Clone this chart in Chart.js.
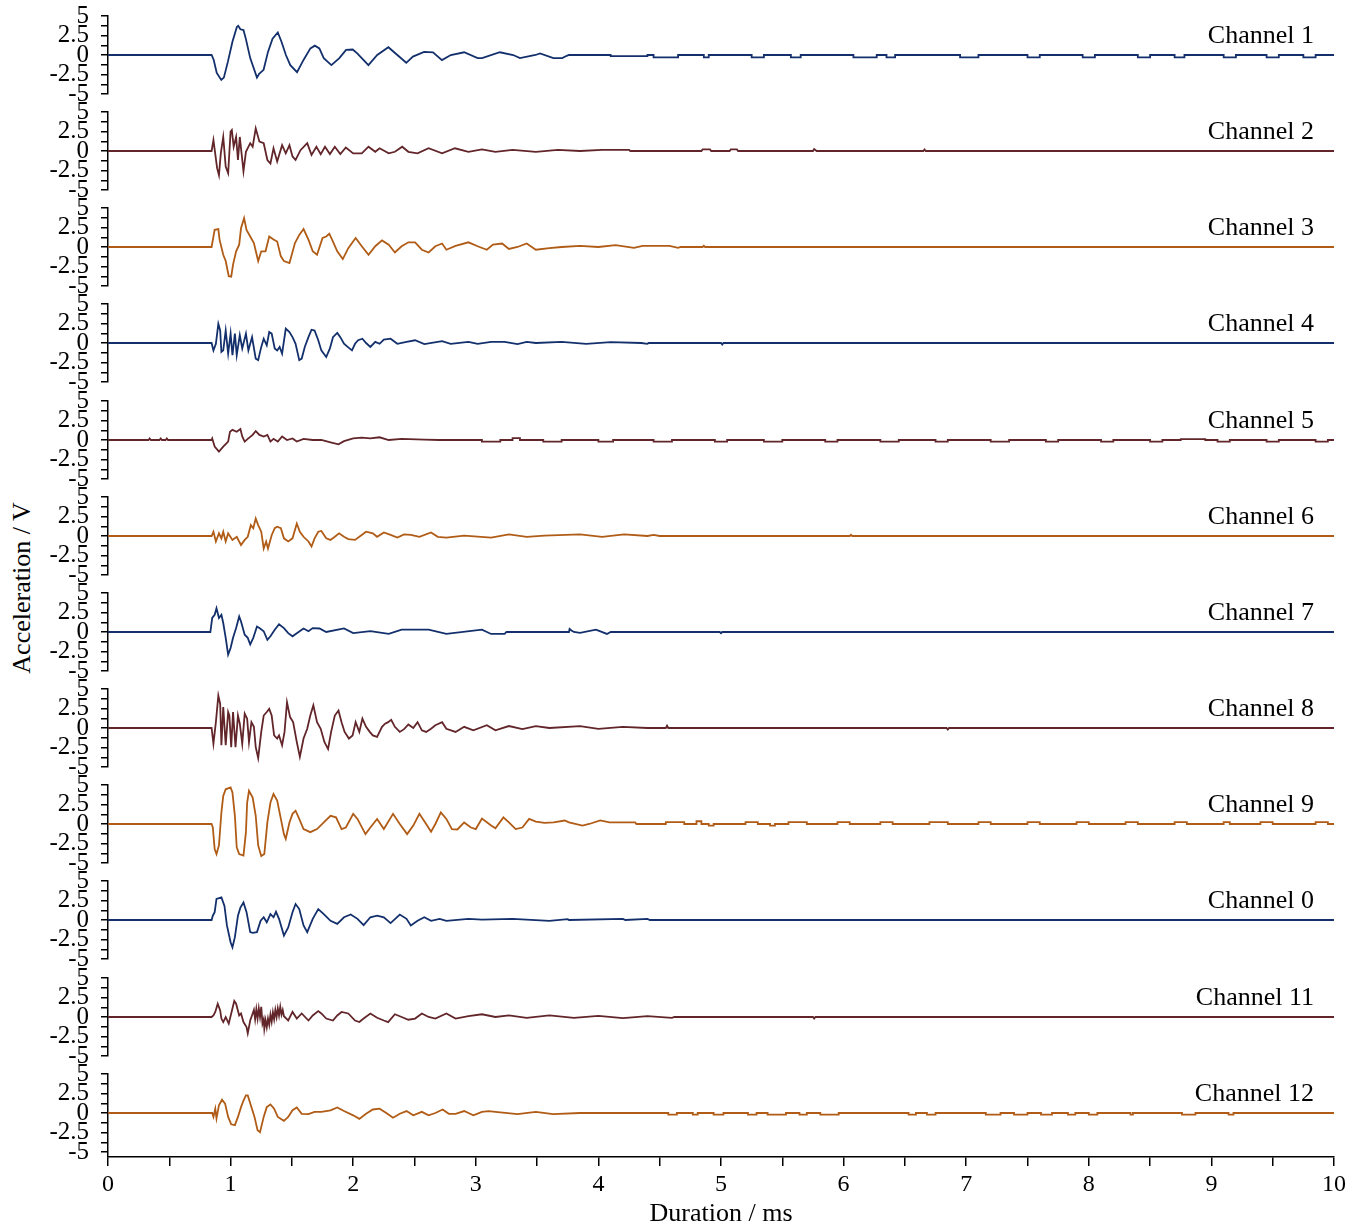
<!DOCTYPE html>
<html>
<head>
<meta charset="utf-8">
<script src="https://cdn.jsdelivr.net/npm/chart.js@4.4.1/dist/chart.umd.min.js"></script>
<style>
  body { margin: 0; background: #fff; width: 1363px; height: 1225px; position: relative; overflow: hidden; }
  canvas.panel { position: absolute; left: 0; }
  #ylab {
    position: absolute; left: 22px; top: 588px;
    transform: translate(-50%, -50%) rotate(-90deg);
    font: 26px "Liberation Serif", serif; white-space: nowrap; color: #000;
  }
</style>
</head>
<body>
<div id="ylab">Acceleration / V</div>
<script>
// ===========================
// DATA  (time in ms, acceleration in V)
// ===========================
const xTicks = [0, 1, 2, 3, 4, 5, 6, 7, 8, 9, 10];
const yTicks = [-5, -3.75, -2.5, -1.25, 0, 1.25, 2.5, 3.75, 5];

const ch1 = [[0,0],[0.845,0],[0.862,-0.6],[0.887,-2.3],[0.924,-3.2],[0.945,-2.9],[0.978,-0.85],[1.015,1.7],[1.051,3.6],[1.062,3.75],[1.08,3.3],[1.105,3.2],[1.124,2.1],[1.16,-0.4],[1.215,-2.9],[1.233,-2.4],[1.269,-1.9],[1.305,0.4],[1.342,2.1],[1.385,2.9],[1.415,1.7],[1.451,0],[1.487,-1.3],[1.542,-2.2],[1.596,-0.6],[1.651,0.85],[1.687,1.2],[1.724,0.85],[1.76,-0.4],[1.822,-1.3],[1.887,-0.4],[1.942,0.65],[1.996,0.7],[2.033,0.2],[2.124,-1.3],[2.196,0],[2.287,1.0],[2.36,0],[2.433,-1.0],[2.487,-0.2],[2.578,0.4],[2.651,0.35],[2.724,-0.65],[2.796,0],[2.905,0.35],[3.015,-0.4],[3.051,-0.4],[3.196,0.35],[3.305,0],[3.36,-0.4],[3.487,0],[3.524,0.2],[3.633,-0.4],[3.705,-0.4],[3.742,-0.1],[3.76,0]];
const ch1Steps = [[4.1,4.4,-0.15],[4.45,4.65,-0.3],[4.86,4.9,-0.3],[5.25,5.35,-0.3],[5.57,5.65,-0.3],[6.08,6.27,-0.3],[6.35,6.42,-0.3],[6.95,7.1,-0.3],[7.5,7.6,-0.3],[7.95,8.05,-0.3],[8.4,8.5,-0.3],[8.7,8.78,-0.3],[9.1,9.2,-0.3],[9.45,9.55,-0.3],[9.75,9.85,-0.3]];

const ch2 = [[0,0],[0.845,0],[0.86,1.4],[0.89,-2.2],[0.905,-3.1],[0.92,-0.3],[0.94,1.8],[0.96,-2.0],[0.98,-2.85],[1.0,2.5],[1.01,2.7],[1.025,0.55],[1.045,1.8],[1.06,-1.15],[1.075,1.8],[1.105,-2.6],[1.125,-0.1],[1.16,1.0],[1.18,0.55],[1.205,2.9],[1.235,1.2],[1.27,1.0],[1.3,-1.15],[1.325,-1.6],[1.35,0.35],[1.38,-1.35],[1.42,0.75],[1.45,-0.3],[1.48,0.75],[1.505,-0.7],[1.53,-1.15],[1.57,0.1],[1.625,1.0],[1.66,-0.5],[1.7,0.55],[1.735,-0.4],[1.77,0.55],[1.81,-0.4],[1.85,0.55],[1.895,-0.4],[1.94,0.45],[2.0,-0.3],[2.07,-0.3],[2.125,0.55],[2.18,-0.1],[2.215,0.35],[2.29,-0.3],[2.34,-0.1],[2.4,0.55],[2.45,-0.1],[2.525,-0.3],[2.615,0.35],[2.725,-0.3],[2.83,0.35],[2.94,-0.1],[3.05,0.2],[3.16,-0.1],[3.3,0.15],[3.49,-0.1],[3.67,0.15],[3.85,0],[4.03,0.15],[4.25,0.15],[4.26,0],[4.84,0],[4.85,0.2],[4.91,0.2],[4.92,0],[5.07,0],[5.08,0.2],[5.13,0.2],[5.14,0],[5.75,0],[5.76,0.25],[5.78,0],[6.65,0],[6.66,0.2],[6.67,0]];

const ch3 = [[0,0],[0.845,0],[0.87,2.2],[0.9,2.3],[0.91,0.95],[0.94,-1.0],[0.96,-1.8],[0.985,-3.75],[1.005,-3.8],[1.02,-2.25],[1.045,-0.55],[1.07,0.3],[1.085,2.4],[1.11,3.7],[1.13,2.2],[1.16,1.35],[1.19,0.5],[1.225,-1.8],[1.25,-0.55],[1.285,-0.55],[1.315,1.35],[1.35,0.95],[1.38,0.7],[1.41,-1.2],[1.435,-1.8],[1.48,-2.05],[1.525,0.5],[1.56,1.55],[1.595,2.3],[1.635,0.95],[1.67,-0.55],[1.705,-1.0],[1.75,1.15],[1.78,1.35],[1.805,1.7],[1.835,0.7],[1.87,-0.55],[1.915,-1.55],[1.96,-0.15],[2.02,1.15],[2.07,0.1],[2.125,-1.0],[2.18,0.1],[2.235,0.85],[2.29,0.3],[2.34,-0.7],[2.395,0.1],[2.45,0.6],[2.505,0.6],[2.56,-0.35],[2.615,-0.7],[2.67,0.1],[2.725,0.45],[2.76,-0.35],[2.835,0.15],[2.94,0.6],[3.015,0.1],[3.09,-0.35],[3.14,0.3],[3.215,0.45],[3.27,-0.25],[3.34,0],[3.415,0.45],[3.49,-0.35],[3.6,-0.15],[3.7,0],[3.85,0.15],[4.0,0],[4.14,0.25],[4.29,-0.1],[4.36,0.15],[4.58,0.15],[4.65,-0.1],[4.67,0],[4.85,0],[4.86,0.15],[4.87,0]];

const ch4 = [[0,0],[0.845,0],[0.86,-0.95],[0.88,-0.1],[0.9,2.45],[0.915,1.6],[0.925,-1.15],[0.94,-0.95],[0.96,1.6],[0.98,-1.35],[1.0,1.2],[1.015,-1.55],[1.035,1.2],[1.05,-1.55],[1.075,1.0],[1.095,-0.7],[1.125,1.2],[1.145,-0.95],[1.175,0.75],[1.205,-2.0],[1.225,-2.2],[1.25,-0.5],[1.27,0.55],[1.295,-0.3],[1.315,1.4],[1.335,1.2],[1.36,-0.7],[1.38,-0.95],[1.4,-0.5],[1.42,-1.35],[1.45,1.85],[1.48,1.4],[1.505,0.75],[1.53,-0.1],[1.56,-2.2],[1.58,-2.0],[1.605,-0.5],[1.635,0.75],[1.66,1.7],[1.685,1.6],[1.715,0.35],[1.74,-0.95],[1.78,-1.8],[1.81,-0.7],[1.835,0.75],[1.87,1.3],[1.895,0.75],[1.925,-0.1],[1.955,-0.5],[1.99,-0.95],[2.015,-0.1],[2.04,0.35],[2.075,0.55],[2.105,0],[2.14,-0.5],[2.18,0.15],[2.215,-0.1],[2.25,0.45],[2.305,0.55],[2.36,-0.1],[2.435,0.15],[2.505,0.35],[2.58,-0.15],[2.725,0.25],[2.795,-0.1],[2.94,0.15],[3.015,-0.1],[3.125,0.15],[3.235,0.15],[3.34,-0.15],[3.415,0.15],[3.49,0],[3.7,0.15],[3.9,-0.1],[4.1,0.1],[4.35,0],[4.4,-0.1],[4.41,0],[5.0,0],[5.01,-0.2],[5.02,0]];

const ch5 = [[0,0],[0.33,0],[0.34,0.2],[0.35,0],[0.42,0],[0.43,0.2],[0.44,0],[0.47,0],[0.48,0.2],[0.49,0],[0.845,0],[0.85,0.2],[0.87,-0.85],[0.905,-1.5],[0.94,-0.85],[0.98,-0.2],[0.995,1.05],[1.015,1.3],[1.05,1.05],[1.08,1.4],[1.095,0.45],[1.115,-0.2],[1.14,0.15],[1.18,0.65],[1.205,1.15],[1.235,0.65],[1.27,0.45],[1.3,0.65],[1.325,-0.2],[1.35,0.15],[1.385,-0.2],[1.42,0.45],[1.46,0],[1.505,0.2],[1.54,-0.2],[1.595,0.15],[1.67,0],[1.74,0],[1.815,-0.3],[1.88,-0.55],[1.925,-0.15],[2.0,0.2],[2.07,0.3],[2.14,0.2],[2.215,0.35],[2.29,0],[2.395,0.15],[2.58,0.05],[2.7,0]];
const ch5Steps = [[3.05,3.2,-0.2],[3.3,3.36,0.25],[3.55,3.7,-0.2],[4.0,4.12,-0.2],[4.45,4.6,-0.2],[4.95,5.05,-0.2],[5.35,5.5,-0.2],[5.85,5.95,-0.2],[6.3,6.45,-0.2],[6.75,6.85,-0.2],[7.2,7.35,-0.2],[7.65,7.75,-0.2],[8.1,8.2,-0.2],[8.5,8.6,-0.2],[8.75,8.95,0.1],[9.05,9.15,-0.2],[9.45,9.55,-0.2],[9.85,9.95,-0.2]];

const ch6 = [[0,0],[0.845,0],[0.86,0.55],[0.88,-0.7],[0.905,0.35],[0.925,-0.3],[0.94,0.55],[0.96,-0.7],[0.98,0.35],[1.015,-0.5],[1.05,-0.1],[1.085,-1.15],[1.115,-0.5],[1.14,-0.1],[1.165,1.4],[1.185,1.0],[1.205,2.25],[1.225,1.4],[1.25,0.55],[1.27,-1.6],[1.29,-0.7],[1.305,-1.6],[1.335,0.1],[1.36,1.0],[1.38,1.2],[1.41,1.0],[1.435,-0.3],[1.47,-0.7],[1.505,-0.3],[1.54,1.6],[1.565,0.55],[1.595,-0.1],[1.635,-0.7],[1.66,-1.35],[1.685,-0.3],[1.715,0.55],[1.74,0.65],[1.78,-0.3],[1.815,-0.5],[1.85,-0.1],[1.885,0.35],[1.925,-0.1],[1.96,-0.4],[2.015,-0.5],[2.05,-0.1],[2.105,0.55],[2.16,0.35],[2.195,-0.1],[2.25,0.45],[2.305,0.15],[2.36,-0.2],[2.415,0.2],[2.47,0.15],[2.54,-0.1],[2.635,0.45],[2.69,-0.1],[2.76,-0.2],[2.905,0.05],[3.125,-0.2],[3.27,0.2],[3.415,-0.1],[3.56,0.05],[3.85,0.2],[4.03,-0.1],[4.21,0.2],[4.4,0],[4.45,0.15],[4.5,0],[6.05,0],[6.06,0.15],[6.07,0]];

const ch7 = [[0,0],[0.835,0],[0.85,1.8],[0.87,2.2],[0.885,3.05],[0.905,1.8],[0.925,2.2],[0.94,1.15],[0.96,-0.75],[0.98,-2.9],[1.0,-2.05],[1.02,-0.75],[1.045,0.5],[1.07,2.0],[1.085,1.35],[1.115,-0.35],[1.14,-0.75],[1.16,-1.6],[1.185,-0.75],[1.215,0.7],[1.235,0.5],[1.27,0.1],[1.3,-1.0],[1.325,-0.55],[1.36,0.3],[1.395,1.0],[1.435,0.5],[1.47,-0.15],[1.505,-0.55],[1.54,-0.15],[1.595,0.45],[1.635,0.1],[1.67,0.5],[1.725,0.45],[1.78,0],[1.925,0.45],[2.0,-0.15],[2.14,0.1],[2.29,-0.25],[2.395,0.3],[2.615,0.3],[2.76,-0.25],[3.05,0.3],[3.125,-0.25],[3.235,-0.25],[3.25,0],[3.76,0],[3.765,0.4],[3.78,0.2],[3.8,0],[3.85,-0.1],[3.98,0.3],[4.07,-0.25],[4.1,0],[4.99,0],[5.0,-0.15],[5.01,0]];

const ch8 = [[0,0],[0.845,0],[0.86,-2.0],[0.88,0.75],[0.9,4.15],[0.915,3.1],[0.925,-2.2],[0.94,2.7],[0.96,-2.2],[0.98,2.05],[0.99,1.6],[1.005,-2.45],[1.02,2.05],[1.04,-2.45],[1.06,1.6],[1.075,0.55],[1.095,-2.0],[1.115,1.85],[1.135,1.2],[1.15,-1.8],[1.17,0.75],[1.19,0.15],[1.205,-2.45],[1.225,-3.85],[1.25,-0.5],[1.27,1.6],[1.295,2.05],[1.315,2.45],[1.335,1.6],[1.355,-0.95],[1.38,-1.35],[1.395,-0.95],[1.42,-2.2],[1.44,-0.5],[1.46,3.3],[1.485,1.4],[1.51,0.75],[1.54,-1.8],[1.565,-3.7],[1.595,-1.35],[1.625,-0.1],[1.65,1.6],[1.675,2.9],[1.705,0.75],[1.735,-0.1],[1.765,-1.8],[1.795,-2.7],[1.82,-0.5],[1.85,1.6],[1.88,2.25],[1.905,0.75],[1.93,-0.5],[1.965,-1.35],[1.995,-0.95],[2.02,0.75],[2.05,-0.5],[2.075,1.2],[2.105,0.15],[2.135,-0.5],[2.16,-0.95],[2.195,-1.15],[2.235,0.15],[2.26,0.55],[2.285,0.75],[2.31,1.05],[2.34,0.15],[2.38,-0.5],[2.415,-0.15],[2.45,0.45],[2.49,0],[2.525,0.75],[2.56,-0.3],[2.595,-0.5],[2.635,-0.1],[2.67,0.35],[2.725,0.75],[2.76,-0.1],[2.835,-0.5],[2.905,0.15],[2.98,-0.3],[3.09,0.35],[3.16,-0.3],[3.27,0.25],[3.38,-0.15],[3.49,0.25],[3.6,0],[3.85,0.25],[4.0,-0.1],[4.2,0.15],[4.4,0],[4.55,0],[4.56,0.3],[4.57,0],[6.84,0],[6.85,-0.2],[6.86,0]];

const ch9 = [[0,0],[0.845,0],[0.855,-0.45],[0.87,-3.2],[0.885,-3.85],[0.905,-2.75],[0.925,1.5],[0.94,3.6],[0.96,4.45],[1.0,4.7],[1.015,4.05],[1.035,1.05],[1.05,-3.0],[1.07,-3.85],[1.105,-4.05],[1.125,-1.05],[1.135,2.75],[1.15,4.25],[1.18,3.4],[1.205,1.05],[1.225,-2.75],[1.25,-4.1],[1.275,-3.85],[1.3,0.2],[1.325,2.75],[1.35,3.85],[1.38,3.0],[1.41,0.65],[1.435,-1.3],[1.45,-1.9],[1.48,0.2],[1.505,1.3],[1.53,1.7],[1.56,0.65],[1.595,-0.65],[1.65,-1.05],[1.705,-0.65],[1.76,0.2],[1.815,1.05],[1.86,0.85],[1.905,-0.65],[1.94,-0.45],[2.0,1.3],[2.035,0.65],[2.1,-1.3],[2.14,-0.45],[2.195,0.65],[2.25,-0.65],[2.325,1.3],[2.38,0],[2.44,-1.3],[2.49,-0.2],[2.54,1.3],[2.595,0],[2.635,-1.0],[2.67,0],[2.715,1.5],[2.76,0.65],[2.805,-0.65],[2.85,-0.7],[2.905,0.2],[2.96,-0.45],[3.0,-0.65],[3.05,0.7],[3.125,-0.2],[3.16,-0.55],[3.225,0.85],[3.27,0.2],[3.325,-0.65],[3.38,-0.45],[3.435,0.65],[3.49,0.3],[3.56,0.15],[3.635,0.2],[3.725,0.45],[3.76,0.2],[3.87,-0.2],[3.925,0],[4.015,0.45],[4.09,0.2],[4.3,0.2],[4.31,0]];
const ch9Steps = [[4.55,4.7,0.25],[4.8,4.84,0.35],[4.9,4.94,-0.2],[5.2,5.3,0.25],[5.4,5.44,-0.2],[5.55,5.7,0.25],[5.95,6.05,0.25],[6.3,6.4,0.25],[6.7,6.85,0.25],[7.1,7.2,0.25],[7.5,7.6,0.25],[7.9,8.0,0.25],[8.3,8.4,0.25],[8.7,8.8,0.25],[9.1,9.15,0.25],[9.4,9.5,0.25],[9.85,9.95,0.25]];

const ch0 = [[0,0],[0.845,0],[0.855,0.55],[0.87,1.0],[0.885,2.7],[0.925,2.9],[0.95,1.8],[0.97,-0.7],[1.0,-2.85],[1.015,-3.5],[1.035,-2.2],[1.06,0.55],[1.08,1.6],[1.105,2.25],[1.13,1.0],[1.16,-1.55],[1.18,-1.65],[1.215,-1.55],[1.245,-0.1],[1.27,0.35],[1.295,-0.3],[1.325,0.75],[1.35,0.35],[1.37,1.05],[1.395,0.15],[1.435,-2.0],[1.47,-0.95],[1.505,1.0],[1.53,2.05],[1.56,1.4],[1.595,-0.7],[1.625,-1.55],[1.67,0.15],[1.715,1.4],[1.76,0.75],[1.815,-0.1],[1.87,-0.5],[1.925,0.35],[1.98,0.7],[2.035,0.15],[2.085,-0.65],[2.14,0.35],[2.195,0.55],[2.25,0.35],[2.305,-0.4],[2.38,0.7],[2.435,0.15],[2.47,-0.7],[2.525,-0.1],[2.58,0.35],[2.635,-0.1],[2.705,0.15],[2.76,-0.1],[2.94,0.15],[3.05,0.05],[3.3,0.15],[3.6,-0.1],[3.75,0.1],[3.76,0],[4.2,0.15],[4.22,0],[4.4,0.15],[4.42,0]];

const ch11 = [[0,0],[0.845,0],[0.86,0.2],[0.875,0.65],[0.895,1.7],[0.915,0.85],[0.925,-0.2],[0.94,-0.65],[0.96,0],[0.985,-0.85],[1.005,0.45],[1.03,2.05],[1.045,1.7],[1.07,0.2],[1.085,0.45],[1.105,-0.65],[1.13,-1.3],[1.14,-2.1],[1.16,-0.45],[1.18,0.45],[1.19,0.9],[1.2,-0.3],[1.21,1.0],[1.22,-0.2],[1.23,1.1],[1.24,0.0],[1.25,1.3],[1.26,-0.85],[1.27,-0.3],[1.275,-1.5],[1.285,-0.4],[1.295,-1.3],[1.305,-0.2],[1.315,-1.0],[1.325,0.3],[1.335,-0.6],[1.345,0.6],[1.355,-0.3],[1.365,0.9],[1.375,0.0],[1.385,1.1],[1.395,0.2],[1.405,1.3],[1.415,0.3],[1.425,0.9],[1.435,0.1],[1.47,-0.45],[1.505,0.65],[1.54,-0.2],[1.58,0.45],[1.635,-0.45],[1.67,0.2],[1.715,0.75],[1.74,0.45],[1.78,-0.2],[1.835,-0.45],[1.87,0.2],[1.905,0.65],[1.96,0.45],[2.015,-0.45],[2.05,-0.65],[2.085,-0.2],[2.14,0.45],[2.195,-0.1],[2.25,-0.45],[2.285,-0.65],[2.34,0.35],[2.395,0],[2.45,-0.35],[2.505,-0.2],[2.56,0.45],[2.615,0],[2.67,-0.2],[2.76,0.45],[2.835,-0.2],[2.94,0.1],[3.05,0.35],[3.16,0],[3.27,0.2],[3.415,-0.1],[3.6,0.2],[3.8,-0.1],[4.0,0.15],[4.2,-0.15],[4.4,0.1],[4.6,-0.1],[4.62,0],[5.75,0],[5.76,-0.2],[5.77,0]];

const ch12 = [[0,0],[0.85,0],[0.86,-0.5],[0.875,0.55],[0.885,-0.7],[0.905,1.0],[0.93,1.7],[0.955,1.2],[0.98,-0.5],[1.005,-1.45],[1.035,-1.55],[1.06,-0.5],[1.085,0.75],[1.105,1.6],[1.125,2.25],[1.14,2.25],[1.165,1.0],[1.195,-0.5],[1.22,-2.2],[1.24,-2.45],[1.27,-0.5],[1.295,0.75],[1.325,1.1],[1.355,0.55],[1.385,-0.5],[1.435,-1.0],[1.47,-0.5],[1.505,0.35],[1.54,0.7],[1.58,-0.1],[1.635,-0.15],[1.685,0.15],[1.74,0.15],[1.815,0.35],[1.87,0.7],[1.925,0.25],[2.0,-0.3],[2.05,-0.75],[2.105,-0.1],[2.16,0.45],[2.215,0.55],[2.27,0],[2.325,-0.6],[2.38,-0.1],[2.435,0.25],[2.49,-0.3],[2.56,0.15],[2.615,-0.3],[2.67,0],[2.73,0.45],[2.78,-0.1],[2.835,-0.1],[2.905,0.25],[2.98,-0.3],[3.05,0.15],[3.105,0.25],[3.16,0.15],[3.34,-0.15],[3.49,0.15],[3.63,-0.15],[3.85,0]];
const ch12Steps = [[4.57,4.64,-0.2],[4.77,4.81,-0.2],[4.94,5.02,-0.2],[5.22,5.29,-0.2],[5.38,5.53,-0.2],[5.64,5.7,-0.2],[5.81,5.96,-0.2],[6.53,6.59,-0.2],[6.68,6.75,-0.2],[7.16,7.28,-0.2],[7.39,7.5,-0.2],[7.61,7.7,-0.2],[7.83,7.89,-0.2],[8.0,8.07,-0.2],[8.34,8.36,-0.2],[8.76,8.87,-0.2],[9.14,9.18,-0.2]];

const NAVY = "#13306c";
const MAROON = "#62262a";
const ORANGE = "#b05c16";

const panels = [
  { name: "Channel 1",  data: ch1,  steps: ch1Steps, color: NAVY },
  { name: "Channel 2",  data: ch2,  color: MAROON },
  { name: "Channel 3",  data: ch3,  color: ORANGE },
  { name: "Channel 4",  data: ch4,  color: NAVY },
  { name: "Channel 5",  data: ch5,  steps: ch5Steps, color: MAROON },
  { name: "Channel 6",  data: ch6,  color: ORANGE },
  { name: "Channel 7",  data: ch7,  color: NAVY },
  { name: "Channel 8",  data: ch8,  color: MAROON },
  { name: "Channel 9",  data: ch9,  steps: ch9Steps, color: ORANGE },
  { name: "Channel 0",  data: ch0,  color: NAVY },
  { name: "Channel 11", data: ch11, color: MAROON },
  { name: "Channel 12", data: ch12, steps: ch12Steps, color: ORANGE }
];

// ===========================
// LAYOUT
// ===========================
const ZERO0 = 55, GAP = 96.15, HALF = 39, PAD = 16;
const AXIS_W = 108, RIGHT_PAD = 29;
const X_AXIS_Y = 1157, PAGE_BOTTOM = 1238;
const SERIF = '"Liberation Serif", "Times New Roman", serif';

function toPoints(pairs, steps) {
  const pts = pairs.map(p => ({ x: p[0], y: p[1] }));
  (steps || []).forEach(s => {
    pts.push({ x: s[0], y: 0 }, { x: s[0], y: s[2] }, { x: s[1], y: s[2] }, { x: s[1], y: 0 });
  });
  pts.push({ x: 10, y: 0 });
  return pts;
}

const channelLabel = {
  id: "channelLabel",
  afterDraw(chart, args, opts) {
    const ctx = chart.ctx;
    const y = chart.scales.y.getPixelForValue(0) - 12;
    ctx.save();
    ctx.font = "26px " + SERIF;
    ctx.fillStyle = "#000";
    ctx.textAlign = "right";
    ctx.textBaseline = "alphabetic";
    ctx.fillText(opts.text, chart.chartArea.right - 20, y);
    ctx.restore();
  }
};

panels.forEach((p, i) => {
  const last = i === panels.length - 1;
  const zero = Math.round(ZERO0 + GAP * i);
  const top = zero - HALF - PAD;
  const height = last ? PAGE_BOTTOM - top : 2 * HALF + 2 * PAD;
  const yMin = last ? -5 - (X_AXIS_Y - zero - HALF) / (HALF / 5) : -5;

  const cv = document.createElement("canvas");
  cv.className = "panel";
  cv.width = 1363;
  cv.height = height;
  cv.style.top = top + "px";
  document.body.appendChild(cv);

  new Chart(cv, {
    type: "line",
    data: {
      datasets: [{
        data: toPoints(p.data, p.steps),
        borderColor: p.color,
        borderWidth: 1.8,
        pointRadius: 0,
        tension: 0,
        fill: false
      }]
    },
    options: {
      responsive: false,
      animation: false,
      parsing: false,
      layout: { padding: { top: PAD, bottom: last ? 0 : PAD, left: 0, right: RIGHT_PAD } },
      plugins: {
        legend: { display: false },
        tooltip: { enabled: false },
        channelLabel: { text: p.name }
      },
      scales: {
        x: {
          type: "linear",
          min: 0,
          max: 10,
          display: last,
          afterFit: s => {
            s.height = height - PAD - (X_AXIS_Y - zero + HALF);
            s.paddingLeft = 0; s.paddingRight = 0;
          },
          afterBuildTicks: s => {
            const t = [];
            xTicks.forEach((v, k) => { t.push({ value: v }); if (k < xTicks.length - 1) t.push({ value: v + 0.5 }); });
            s.ticks = t;
          },
          border: { color: "#000", width: 1.5 },
          grid: { drawOnChartArea: false, drawTicks: true, tickLength: 9, color: "#000", lineWidth: 1.5 },
          ticks: {
            autoSkip: false, maxRotation: 0, padding: 4, color: "#000",
            font: { family: SERIF, size: 24 },
            callback: v => (Number.isInteger(v) ? String(v) : "")
          },
          title: {
            display: true, text: "Duration / ms", color: "#000",
            font: { family: SERIF, size: 26 }, padding: { top: 0, bottom: 8 }
          }
        },
        y: {
          type: "linear",
          min: yMin,
          max: 5,
          afterFit: s => {
            s.width = AXIS_W;
            s.paddingTop = 0; s.paddingBottom = 0;
          },
          afterBuildTicks: s => { s.ticks = yTicks.map(v => ({ value: v })); },
          border: { color: "#000", width: 1.5 },
          grid: { drawOnChartArea: false, drawTicks: true, tickLength: 7, color: "#000", lineWidth: 1.5 },
          ticks: {
            autoSkip: false, padding: 12, color: "#000",
            font: { family: SERIF, size: 25, lineHeight: 1 },
            callback: v => (v % 2.5 === 0 ? String(v) : "")
          }
        }
      }
    },
    plugins: [channelLabel]
  });
});
</script>
</body>
</html>
